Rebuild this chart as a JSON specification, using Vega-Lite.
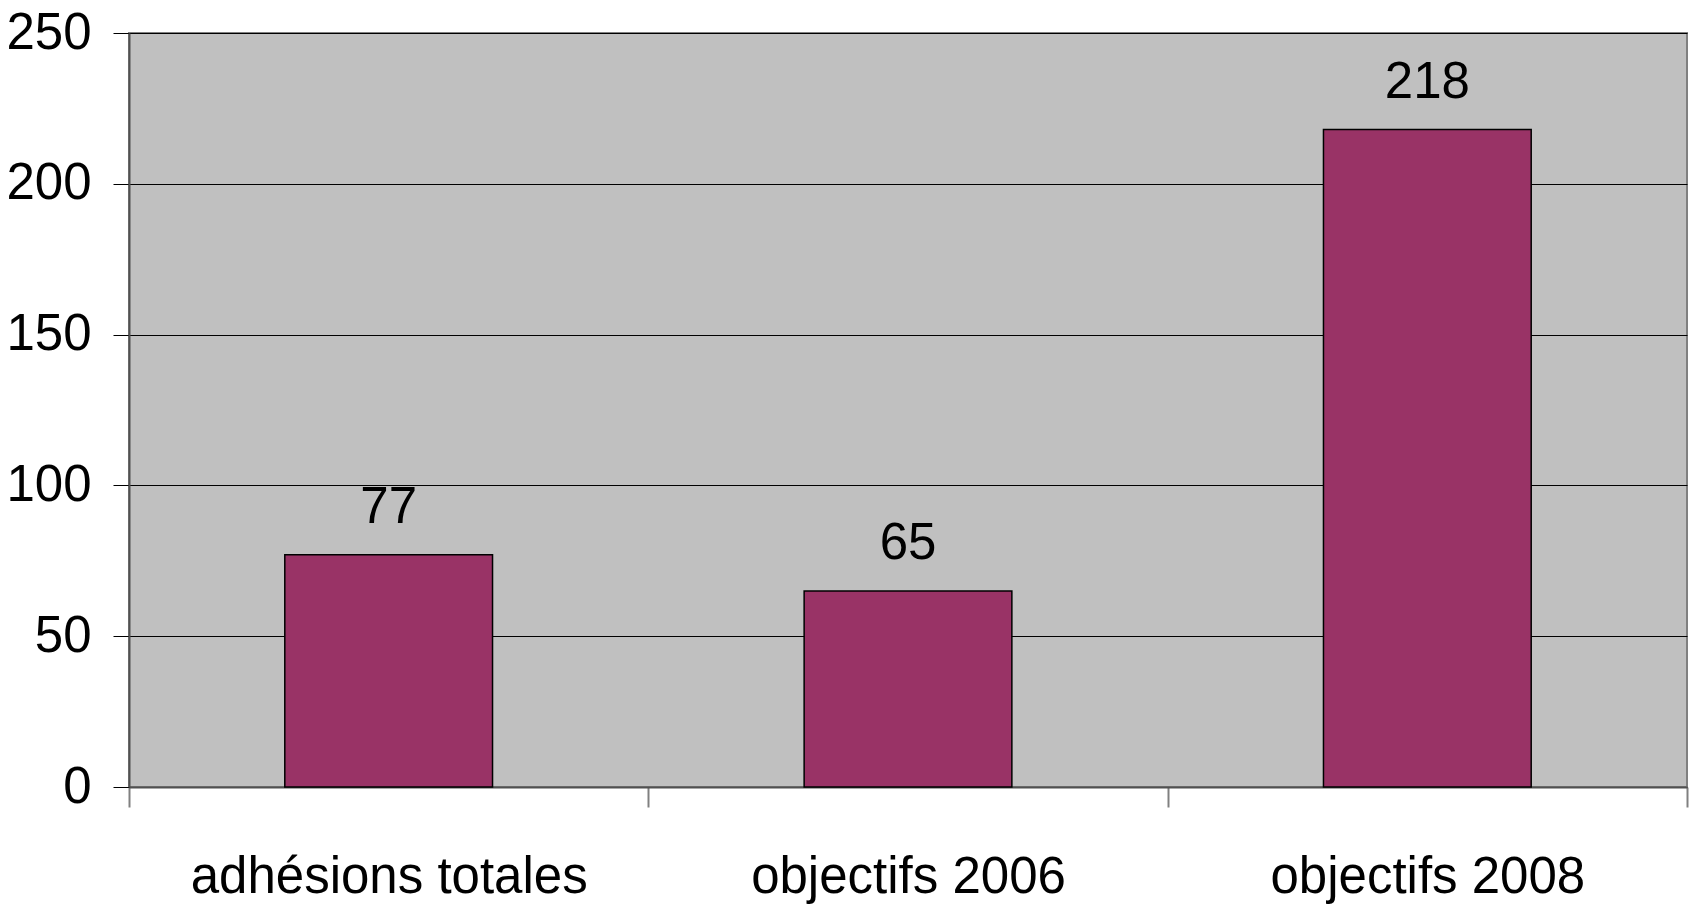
{
  "$schema": "https://vega.github.io/schema/vega-lite/v6.json",
  "autosize": {"type": "none"},
  "padding": {"left": 129, "top": 33, "right": 2, "bottom": 118},
  "width": 1558,
  "height": 754,
  "background": "#ffffff",
  "config": {
    "view": {"fill": "#C0C0C0", "stroke": "#808080", "strokeWidth": 2},
    "font": "Liberation Sans"
  },
  "data": {
    "values": [
      {"categorie": "adhésions totales", "valeur": 77},
      {"categorie": "objectifs 2006", "valeur": 65},
      {"categorie": "objectifs 2008", "valeur": 218}
    ]
  },
  "encoding": {
    "x": {
      "field": "categorie",
      "type": "nominal",
      "sort": null,
      "scale": {"paddingInner": 0, "paddingOuter": 0},
      "axis": {
        "title": null,
        "labelAngle": 0,
        "labelFont": "Liberation Sans",
        "labelFontSize": 51,
        "labelColor": "#000000",
        "labelPadding": 45,
        "labelLimit": 0,
        "tickBand": "extent",
        "tickSize": 20,
        "tickColor": "#808080",
        "tickWidth": 2,
        "domainColor": "#505050",
        "domainWidth": 2,
        "grid": false
      }
    },
    "y": {
      "field": "valeur",
      "type": "quantitative",
      "scale": {"domain": [0, 250], "nice": false},
      "axis": {
        "title": null,
        "values": [0, 50, 100, 150, 200, 250],
        "labelFont": "Liberation Sans",
        "labelFontSize": 51,
        "labelColor": "#000000",
        "labelPadding": 22,
        "tickSize": 16,
        "tickColor": "#000000",
        "tickWidth": 1,
        "domainColor": "#505050",
        "domainWidth": 2,
        "grid": true,
        "gridColor": "#000000",
        "gridWidth": 1,
        "gridOpacity": 1
      }
    }
  },
  "layer": [
    {
      "mark": {"type": "bar", "fill": "#993366", "stroke": "#000000", "strokeWidth": 1.5, "width": {"band": 0.4}}
    },
    {
      "mark": {"type": "text", "font": "Liberation Sans", "fontSize": 51, "color": "#000000", "baseline": "alphabetic", "dy": -32},
      "encoding": {"text": {"field": "valeur", "type": "quantitative"}}
    }
  ]
}
